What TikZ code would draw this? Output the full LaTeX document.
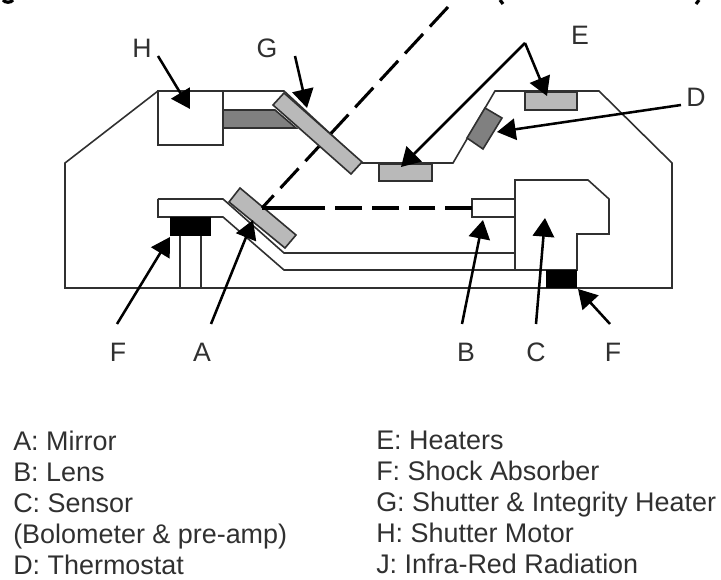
\documentclass[tikz,border=0pt]{standalone}
\usepackage{fontspec}
\setmainfont{Liberation Sans}
\usetikzlibrary{arrows.meta}
\definecolor{inkline}{HTML}{303030}
\definecolor{lightgrey}{HTML}{B9B9B9}
\definecolor{darkgrey}{HTML}{808080}
\tikzset{
  wall/.style = {draw=inkline, line width=1.2pt, line join=miter},
  pointer/.style = {draw=black, line width=1.9pt, -{Triangle[length=14pt,width=16pt]}},
  beam/.style = {draw=black, line width=2.3pt, dash pattern=on 20pt off 7.5pt},
  tag/.style = {text=inkline, inner sep=0pt, font=\fontsize{20pt}{23.25pt}\selectfont},
  legend/.style = {tag, align=left, anchor=north west, font=\fontsize{20.2pt}{23.25pt}\selectfont},
  scrap/.style = {draw=black, line width=2.4pt}
}
\begin{document}
\begin{tikzpicture}[x=0.75pt, y=-0.75pt]
\useasboundingbox (0,0) rectangle (721,580);
\draw[scrap] (3,0) .. controls (5,3) and (11,3) .. (13,0);
\draw[scrap] (500,0) .. controls (501,2) .. (503,4);
\draw[scrap] (699,0) .. controls (698,2) .. (696,4);

\coordinate (hTail) at (158,56);    \coordinate (hTip) at (190,109);
\coordinate (gTail) at (295,56);    \coordinate (gTip) at (307,108);
\coordinate (eApex) at (525,43);    \coordinate (eTipA) at (547,96);
\coordinate (eTipB) at (401,167);
\coordinate (dTail) at (681,105);   \coordinate (dTip) at (497,132);
\coordinate (fTailA) at (117,324);  \coordinate (fTipA) at (170,237);
\coordinate (aTail) at (211,324);   \coordinate (aTip) at (253,220);
\coordinate (bTail) at (462,324);   \coordinate (bTip) at (483,220);
\coordinate (cTail) at (536,324);   \coordinate (cTip) at (545,218);
\coordinate (fTailB) at (610,324);  \coordinate (fTipB) at (578,289);
\coordinate (beamTop) at (448,7);   \coordinate (beamMid) at (262,208);
\coordinate (beamLong) at (323,208); \coordinate (lensEnd) at (472,208);

\draw[wall] (65,288) -- (65,163) -- (158,91) -- (284,91) -- (362,163) -- (453,163)
  -- (495,91) -- (599,91) -- (672,163) -- (672,288) -- cycle;
\draw[wall, fill=white] (158,91) rectangle (223,145);
\draw[wall, fill=darkgrey] (223,110) -- (275,110) -- (296,128) -- (223,128) -- cycle;

\draw[wall] (158,199) -- (223,199) -- (284,253) -- (515,253);
\draw[wall] (158,199) -- (158,217) -- (223,217) -- (284,270) -- (546,270);
\fill[black] (170,217) rectangle (211,236);
\draw[wall] (180,236) -- (180,288);
\draw[wall] (201,236) -- (201,288);

\draw[wall, fill=white] (515,180) -- (588,180) -- (609,199) -- (609,234) -- (577,234)
  -- (577,270) -- (515,270) -- cycle;
\draw[wall, fill=white] (472,199) rectangle (515,217);
\fill[black] (546,270) rectangle (577,288);

\draw[wall, fill=lightgrey] (240,188) -- (296,235) -- (285,248) -- (229,202) -- cycle;
\draw[beam] (beamTop) -- (beamMid);
\draw[beam] (lensEnd) -- (beamMid);
\draw[beam, solid] (beamMid) -- (beamLong);
\draw[wall, fill=lightgrey] (284,93) -- (362,162) -- (351,174) -- (273,105) -- cycle;

\draw[wall, fill=lightgrey] (379,164) rectangle (432,181);
\draw[wall, fill=lightgrey] (525,92) rectangle (577,110);
\draw[wall, fill=darkgrey] (485,108) -- (502,118) -- (483,149) -- (467,138) -- cycle;

\draw[pointer] (hTail) -- (hTip);
\draw[pointer] (gTail) -- (gTip);
\draw[pointer] (eApex) -- (eTipA);
\draw[pointer] (eApex) -- (eTipB);
\draw[pointer] (dTail) -- (dTip);
\draw[pointer] (fTailA) -- (fTipA);
\draw[pointer] (aTail) -- (aTip);
\draw[pointer] (bTail) -- (bTip);
\draw[pointer] (cTail) -- (cTip);
\draw[pointer] (fTailB) -- (fTipB);

\node[tag] (labH) at (142,48) {H};
\node[tag] (labG) at (267,48) {G};
\node[tag] (labE) at (580,35) {E};
\node[tag] (labD) at (696,97) {D};
\node[tag] (labFa) at (118,352) {F};
\node[tag] (labA) at (202,352) {A};
\node[tag] (labB) at (466,352) {B};
\node[tag] (labC) at (536,352) {C};
\node[tag] (labFb) at (613,352) {F};

\node[legend] (legendLeft) at (13,431) {A: Mirror\\B: Lens\\C: Sensor\\(Bolometer \& pre-amp)\\D: Thermostat};
\node[legend] (legendRight) at (376,431) {E: Heaters\\F: Shock Absorber\\G: Shutter \& Integrity Heater\\H: Shutter Motor\\J: Infra-Red Radiation};
\end{tikzpicture}
\end{document}
